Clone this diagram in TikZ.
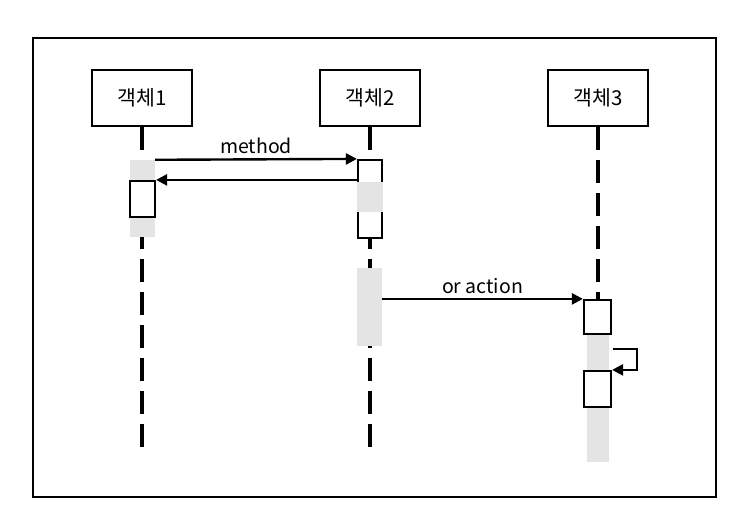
\documentclass[tikz,border=0pt]{standalone}
\usepackage{fontspec}
\setmainfont{Noto Sans CJK KR}
\usetikzlibrary{arrows.meta}
\definecolor{actgray}{RGB}{228,228,228}
\begin{document}
\begin{tikzpicture}[x=1pt,y=-1pt,
  obj/.style={draw,line width=2.4pt,minimum width=100pt,minimum height=56pt,inner sep=0pt,font=\fontsize{20.5}{24}\selectfont},
  life/.style={line width=3.2pt,dash pattern=on 23pt off 10pt},
  graybar/.style={fill=actgray,draw=none,minimum width=25pt,inner sep=0pt},
  actbox/.style={draw,fill=white,line width=2.2pt,inner sep=0pt,minimum width=26pt},
  msg/.style={line width=2.4pt,-{Triangle[length=11pt,width=11pt]}},
  lbl/.style={font=\fontsize{19.5}{22}\selectfont,inner sep=1pt}]
\useasboundingbox (0,0) rectangle (753,529);
\draw[line width=2.4pt] (33,38) rectangle (716,497);
% objects
\node[obj] (o1) at (142,98) {객체1};
\node[obj] (o2) at (370,98) {객체2};
\node[obj] (o3) at (598,98) {객체3};
% lifeline ends
\coordinate (e1) at (142,448);
\coordinate (e2) at (370,448);
\coordinate (e3) at (598,300);
\draw[life] (o1.south) -- (e1);
\draw[life] (o2.south) -- (e2);
\draw[life] (o3.south) -- (e3);
% activations object 1
\node[graybar,minimum height=77pt] (g1) at (142.5,198.5) {};
\node[actbox,minimum width=25pt,minimum height=36pt] (a1) at (142.5,199) {};
% activations object 2
\node[actbox,minimum width=24pt,minimum height=78pt] (a2) at (370,199) {};
\node[graybar,minimum width=25.5pt,minimum height=30pt] (g2a) at (370,197) {};
\node[graybar,minimum height=78pt] (g2b) at (369.5,307) {};
% activations object 3
\node[graybar,minimum width=22pt,minimum height=128pt] (g3) at (598,398) {};
\node[actbox,minimum width=27pt,minimum height=34pt] (a3a) at (597.5,317) {};
\node[actbox,minimum width=27pt,minimum height=36pt] (a3b) at (597.5,389) {};
% messages
\draw[msg] (g1.north east) -- node[lbl,above=3pt] {method} (a2.north west);
\draw[msg] (a2.west |- a1.north) -- (a1.north east);
\draw[msg] (g2b.east |- a3a.north) -- node[lbl,above=3pt] {or action} (a3a.north west);
\coordinate (sc) at (613,349);
\draw[msg] (sc) -- ++(24,0) |- (a3b.north east);
\end{tikzpicture}
\end{document}
